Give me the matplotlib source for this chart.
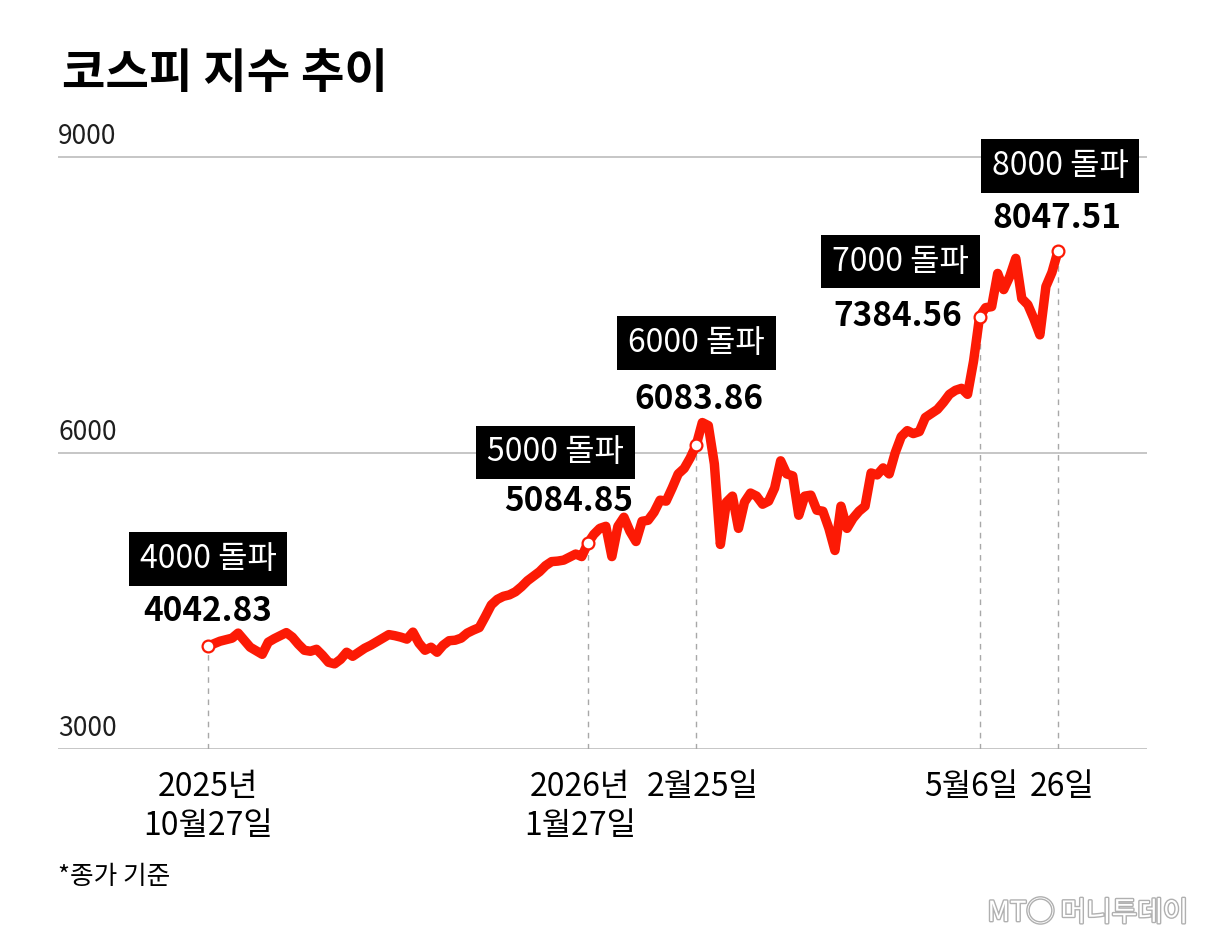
import matplotlib
matplotlib.use("Agg")
import matplotlib.pyplot as plt
import matplotlib.patheffects as pe
import numpy as np

KR = ["Noto Sans CJK KR", "DejaVu Sans"]

# KOSPI close, trading days from 2025-10-27 to 2026-05-26
kospi = [
    4042.83, 4068, 4093, 4108, 4124, 4175, 4103, 4032, 3996, 3960,
    4083, 4119, 4149, 4180, 4134, 4062, 4001, 3991, 4011, 3950,
    3879, 3863, 3909, 3981, 3940, 3981, 4022, 4052, 4088, 4124,
    4160, 4149, 4134, 4114, 4185, 4073, 4001, 4032, 3981, 4052,
    4098, 4103, 4124, 4175, 4205, 4231, 4343, 4461, 4517, 4548,
    4563, 4594, 4645, 4706, 4752, 4798, 4859, 4900, 4905, 4915,
    4946, 4977, 4951, 5084.85, 5176, 5237, 5258, 4951, 5258, 5350,
    5207, 5104, 5309, 5319, 5401, 5523, 5513, 5646, 5789, 5845,
    5952, 6083.86, 6310, 6279, 5891, 5074, 5503, 5564, 5237, 5503,
    5595, 5564, 5482, 5513, 5646, 5922, 5789, 5769, 5370, 5564,
    5574, 5421, 5411, 5237, 5013, 5462, 5237, 5339, 5411, 5462,
    5799, 5779, 5850, 5789, 6004, 6167, 6228, 6198, 6218, 6361,
    6402, 6443, 6514, 6596, 6637, 6657, 6596, 6933, 7384.56, 7475,
    7485, 7822, 7658, 7791, 7975, 7567, 7505, 7362, 7199, 7689,
    7832, 8047.51,
]
days = np.arange(len(kospi))

mark_idx = [0, 63, 81, 128, 141]
mark_label = ["4000 돌파", "5000 돌파", "6000 돌파", "7000 돌파", "8000 돌파"]
date_line1 = ["2025년", "2026년", "2월25일", "5월6일", "26일"]
date_line2 = ["10월27일", "1월27일", "", "", ""]
y_ticks = [3000, 6000, 9000]

# label offsets in pixels: (box dx, box dy, value dx, value dy, date dx)
offsets = [
    (0, 87, 0, 35, 0),
    (-32, 91, -19, 42, -8),
    (0, 102, 3, 45, 6),
    (-79, 55, -82, 0, -8),
    (2, 85, -1, 33, 4),
]

RED = "#fc1a05"

W, H = 1207, 939
fig = plt.figure(figsize=(W / 100, H / 100), dpi=100)
fig.patch.set_facecolor("white")
ax = fig.add_axes([58 / W, 1 - 749 / H, (1147 - 58) / W, (749 - 153) / H])
ax.set_xlim(-24.88, 155.77)
ax.set_ylim(3000, 9043)
ax.axis("off")

for v in y_ticks:
    ax.axhline(v, color="#c6c6c6", lw=1.4, zorder=1)
    ax.annotate(str(v), xy=(0, v), xycoords=("axes fraction", "data"),
                xytext=(0, 13), textcoords="offset pixels",
                ha="left", va="baseline", fontsize=19, family=KR,
                color="#1e1e1e")

ax.plot(days, kospi, color=RED, lw=6.8, solid_joinstyle="round",
        solid_capstyle="round", zorder=3)

for k, i in enumerate(mark_idx):
    v = kospi[i]
    bdx, bdy, vdx, vdy, ddx = offsets[k]
    ax.plot([i, i], [3000, v], color="#a8a8a8", lw=1, ls=(0, (4, 4)), zorder=2)
    ax.plot(i, v, "o", ms=8.5, mfc="white", mec=RED, mew=1.6, zorder=4)
    ax.annotate(mark_label[k], xy=(i, v), xytext=(bdx, bdy),
                textcoords="offset pixels", ha="center", va="center",
                fontsize=23, family=KR, color="white", zorder=6,
                bbox=dict(boxstyle="square,pad=0.34", fc="black", ec="none"))
    ax.annotate(f"{v:.2f}", xy=(i, v), xytext=(vdx, vdy),
                textcoords="offset pixels", ha="center", va="center",
                fontsize=24, family=KR, weight="black", color="black",
                zorder=6)
    ax.annotate(date_line1[k], xy=(i, 3000), xytext=(ddx, -38),
                textcoords="offset pixels", ha="center", va="center",
                fontsize=23, family=KR, color="black")
    if date_line2[k]:
        ax.annotate(date_line2[k], xy=(i, 3000), xytext=(ddx, -77),
                    textcoords="offset pixels", ha="center", va="center",
                    fontsize=23, family=KR, color="black")

fig.text(62 / W, 1 - 88 / H, "코스피 지수 추이", fontsize=34, weight="black",
         family=KR, ha="left", va="baseline", color="black")
fig.text(58 / W, 1 - 884 / H, "*종가 기준", fontsize=18.5, family=KR,
         ha="left", va="baseline", color="black")
fig.text(1188 / W, 1 - 928 / H, "MT◯ 머니투데이", fontsize=20, family=KR,
         ha="right", va="bottom", color="white", style="italic",
         path_effects=[pe.withStroke(linewidth=2, foreground="#b0b0b0")])

fig.savefig("out.png", dpi=100, facecolor="white")
